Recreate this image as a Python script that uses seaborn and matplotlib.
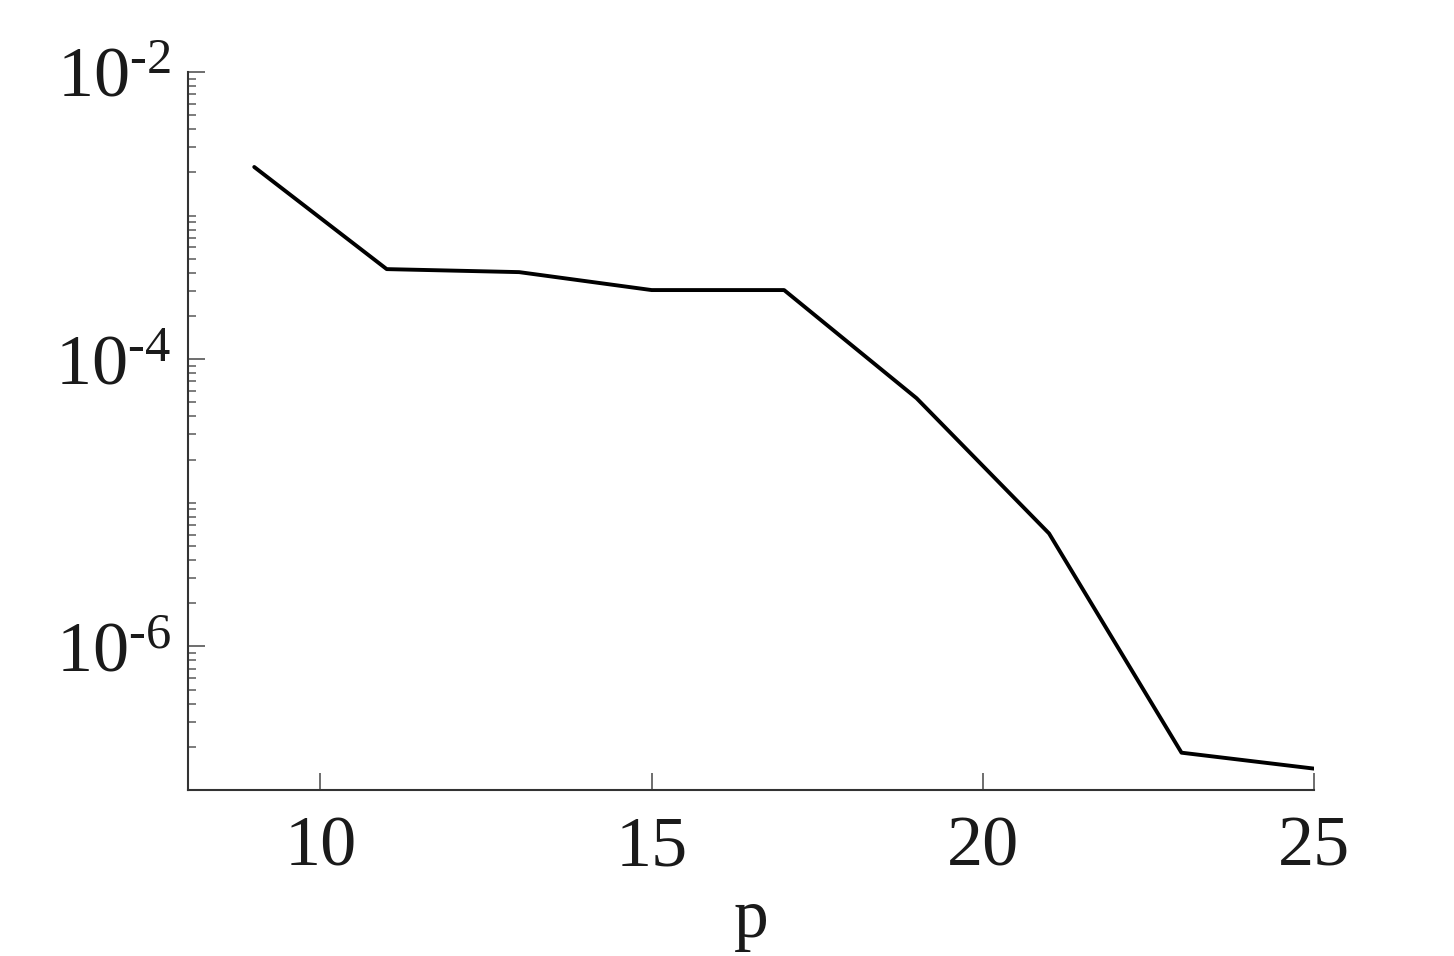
import numpy as np
import pandas as pd
import matplotlib
matplotlib.use("Agg")
import matplotlib.pyplot as plt
from matplotlib.ticker import FixedLocator, LogLocator, NullFormatter
import seaborn as sns

# data
p_values = [9, 11, 13, 15, 17, 19, 21, 23, 25]
error = [2.18e-3, 4.24e-4, 4.04e-4, 3.03e-4, 3.03e-4, 5.35e-5, 6.12e-6, 1.82e-7, 1.41e-7]
y_major = [1e-6, 1e-4, 1e-2]
y_labels = [r"$10^{\text{-}6}$", r"$10^{\text{-}4}$", r"$10^{\text{-}2}$"]
x_ticks = [10, 15, 20, 25]

df = pd.DataFrame({"p": p_values, "err": error})

sns.set_style("ticks")
plt.rcParams["font.family"] = ["Liberation Serif", "DejaVu Serif"]
plt.rcParams["mathtext.fontset"] = "custom"
plt.rcParams["mathtext.rm"] = "Liberation Serif"
plt.rcParams["mathtext.it"] = "Liberation Serif"

fig = plt.figure(figsize=(14.54, 9.56), dpi=100)
ax = fig.add_axes([0.1293, 0.1736, 0.7744, 0.7511])

sns.lineplot(data=df, x="p", y="err", color="black", linewidth=2.8, ax=ax)

ax.set_yscale("log")
ax.set_xlim(8, 25)
ax.set_ylim(1e-7, 1e-2)

ax.yaxis.set_major_locator(FixedLocator(y_major))
ax.set_yticklabels(y_labels)
ax.yaxis.set_minor_locator(LogLocator(base=10, subs=np.arange(1, 10), numticks=20))
ax.yaxis.set_minor_formatter(NullFormatter())
ax.set_xticks(x_ticks)

ax.tick_params(axis="both", which="major", direction="in", length=12, width=1.2,
               color="#555555", labelsize=52, pad=12, labelcolor="#1a1a1a")
ax.tick_params(axis="y", which="minor", direction="in", length=6, width=1.2,
               color="#666666")
ax.tick_params(axis="x", which="major", pad=18)

sns.despine(ax=ax)
for s in ["left", "bottom"]:
    ax.spines[s].set_color("#333333")
    ax.spines[s].set_linewidth(1.5)

ax.set_xlabel("p", fontsize=50, color="#1a1a1a", labelpad=6)
ax.set_ylabel("")

fig.savefig("out.png", dpi=100)
